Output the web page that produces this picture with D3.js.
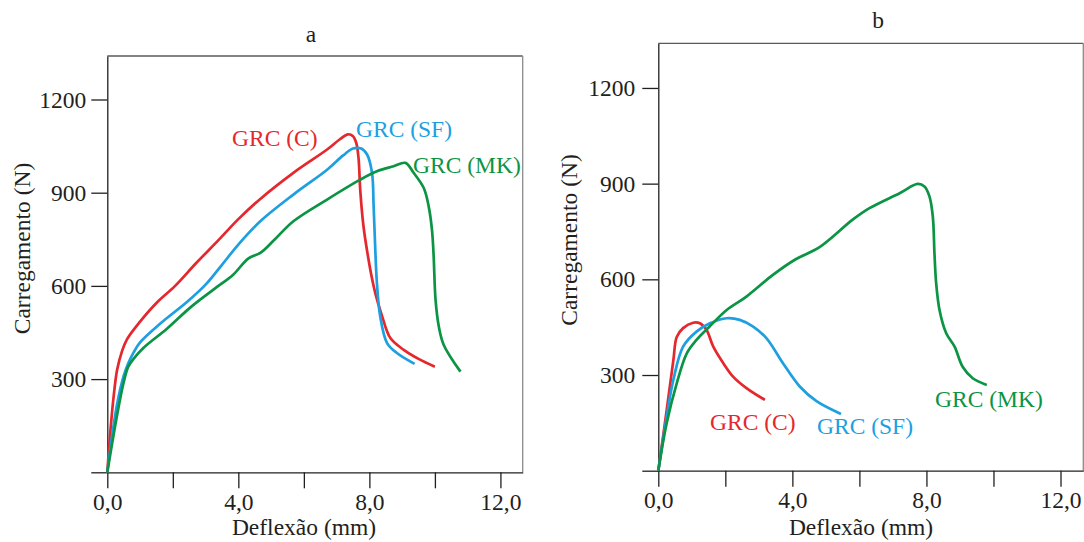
<!DOCTYPE html>
<html>
<head>
<meta charset="utf-8">
<script src="https://cdn.jsdelivr.net/npm/d3@7"></script>
<style>
  body { margin: 0; background: #fff; }
  svg text { font-family: "Liberation Serif", "Times New Roman", serif; fill: #231f20; }
</style>
</head>
<body>
<div id="chart"></div>
<script>
// ticks
const xTicks = [0, 2, 4, 6, 8, 10, 12];
const yTicks = [0, 300, 600, 900, 1200];

// panel a: [deflexão (mm), carregamento (N)]
const aC = [[0,0],[0.1,140],[0.2,250],[0.3,330],[0.45,390],[0.6,428],[1.0,485],[1.5,545],[2.07,600],[2.7,672],[3.4,748],[4.0,815],[4.67,880],[5.68,964],[6.71,1039],[7.1,1072],[7.35,1088],[7.5,1082],[7.6,1060],[7.67,1010],[7.72,910],[7.82,792],[7.95,700],[8.05,640],[8.18,577],[8.39,502],[8.64,432],[9.05,394],[9.5,365],[10.0,340]];
const aSF = [[0,0],[0.15,120],[0.3,220],[0.5,310],[0.64,351],[0.8,385],[1.0,418],[1.61,478],[2.43,548],[3.0,604],[3.5,668],[4.0,733],[4.67,808],[5.68,894],[6.71,974],[7.2,1020],[7.5,1042],[7.75,1042],[7.93,1023],[8.08,964],[8.13,856],[8.18,717],[8.23,609],[8.33,502],[8.54,416],[8.84,384],[9.38,349]];
const aMK = [[0,0],[0.29,179],[0.5,290],[0.64,340],[0.8,365],[1.1,400],[1.82,462],[2.53,530],[3.24,588],[3.85,637],[4.3,688],[4.67,706],[5.07,745],[5.68,808],[6.71,878],[7.72,942],[8.23,969],[8.74,985],[9.1,996],[9.35,964],[9.66,915],[9.81,856],[9.91,781],[9.96,700],[10.02,555],[10.12,469],[10.27,410],[10.78,324]];

// panel b
const bC = [[0,0],[0.25,190],[0.45,347],[0.55,419],[0.74,447],[1.04,464],[1.24,462],[1.44,441],[1.64,389],[1.94,337],[2.23,295],[2.63,259],[3.18,222]];
const bSF = [[0,0],[0.25,169],[0.45,285],[0.74,389],[1.14,436],[1.54,462],[2.04,478],[2.43,473],[2.83,452],[3.23,415],[3.72,337],[4.22,264],[4.72,218],[5.45,178]];
const bMK = [[0,0],[0.25,149],[0.55,274],[0.85,368],[1.14,410],[1.53,452],[2.04,504],[2.63,546],[3.42,614],[4.1,663],[4.8,700],[5.8,787],[6.3,823],[7.2,870],[7.74,899],[7.94,891],[8.09,860],[8.19,797],[8.24,680],[8.29,588],[8.39,504],[8.59,431],[8.84,389],[9.08,326],[9.38,290],[9.8,269]];

const names = ["GRC (C)", "GRC (SF)", "GRC (MK)"];
const color = d3.scaleOrdinal(names, ["#e4282d", "#1d9fe0", "#0b9444"]);

const svg = d3.select("#chart")
    .append("svg")
    .attr("width", 1084)
    .attr("height", 542);

const fontSize = 23.5;

function draw_panel(p) {
    const x = d3.scaleLinear().domain([0, 12.68]).range([p.left, p.right]);
    const y = d3.scaleLinear().domain([0, 1340]).range([p.bottom, p.top]);

    // frame top / right (lighter)
    svg.append("line")
        .attr("x1", p.left).attr("x2", p.right)
        .attr("y1", p.top).attr("y2", p.top)
        .attr("stroke", "#5a5a5a").attr("stroke-width", 1.3);
    svg.append("line")
        .attr("x1", p.right).attr("x2", p.right)
        .attr("y1", p.top).attr("y2", p.bottom)
        .attr("stroke", "#8a8a8a").attr("stroke-width", 1.3);

    // axes
    const gx = svg.append("g")
        .attr("transform", `translate(0, ${p.bottom})`)
        .call(d3.axisBottom(x).tickValues(xTicks).tickSize(16).tickSizeOuter(0).tickPadding(5)
            .tickFormat(d => d % 4 === 0 ? d.toFixed(1).replace(".", ",") : ""));
    const gy = svg.append("g")
        .attr("transform", `translate(${p.left}, 0)`)
        .call(d3.axisLeft(y).tickValues(yTicks).tickSize(16).tickSizeOuter(0).tickPadding(p.ypad)
            .tickFormat(d => d === 0 ? "" : d));
    [gx, gy].forEach(g => {
        g.selectAll("path, line").attr("stroke", "#231f20").attr("stroke-width", 1.3);
        g.selectAll("text").style("font-size", fontSize + "px").attr("fill", "#231f20")
            .style("font-family", '"Liberation Serif", serif');
    });

    // curves
    const line = d3.line()
        .x(d => x(d[0]))
        .y(d => y(d[1]))
        .curve(d3.curveCatmullRom.alpha(0.5));
    p.series.forEach((s, i) => {
        svg.append("path")
            .datum(s)
            .attr("fill", "none")
            .attr("stroke", color(names[i]))
            .attr("stroke-width", 2.7)
            .attr("stroke-linejoin", "round")
            .attr("d", line);
    });

    // curve labels
    p.labels.forEach((l, i) => {
        svg.append("text")
            .attr("x", l[0]).attr("y", l[1])
            .attr("text-anchor", "start")
            .style("font-size", fontSize + "px")
            .style("fill", color(names[i]))
            .text(names[i]);
    });

    // titles
    svg.append("text")
        .attr("x", p.titleX).attr("y", p.titleY)
        .attr("text-anchor", "middle")
        .style("font-size", fontSize + "px")
        .text(p.title);
    svg.append("text")
        .attr("x", p.xlabX).attr("y", 535)
        .attr("text-anchor", "middle")
        .style("font-size", fontSize + "px")
        .text("Deflexão (mm)");
    svg.append("text")
        .attr("transform", `translate(${p.ylabX}, ${p.ylabY}) rotate(-90)`)
        .attr("text-anchor", "middle")
        .style("font-size", fontSize + "px")
        .text("Carregamento (N)");
}

draw_panel({
    left: 107.3, right: 522.7, top: 56, bottom: 472.3, ypad: 5,
    series: [aC, aSF, aMK],
    labels: [[232, 146], [356, 137], [413, 173]],
    title: "a", titleX: 311, titleY: 41.5,
    xlabX: 304, ylabX: 30, ylabY: 248.5
});

draw_panel({
    left: 658.3, right: 1083.3, top: 43.3, bottom: 470.7, ypad: 7,
    series: [bC, bSF, bMK],
    labels: [[710, 430], [817, 434], [935, 407]],
    title: "b", titleX: 878, titleY: 28,
    xlabX: 861, ylabX: 576.5, ylabY: 240
});
</script>
</body>
</html>
